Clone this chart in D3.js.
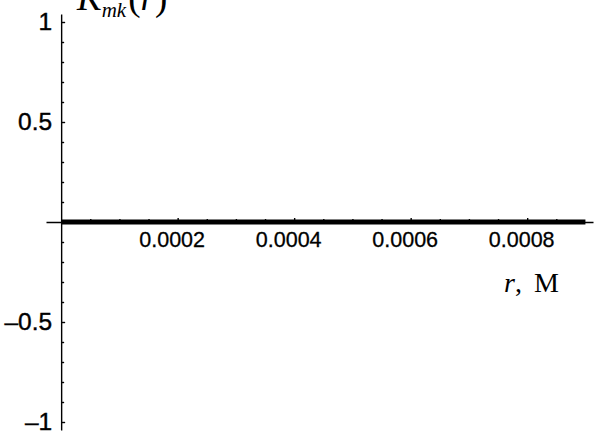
<!DOCTYPE html>
<html>
<head>
<meta charset="utf-8">
<script src="https://cdn.jsdelivr.net/npm/d3@7"></script>
<style>
  body { margin: 0; background: #fff; }
  svg { display: block; }
</style>
</head>
<body>
<div id="chart"></div>
<script>
// data
var rValues = [0, 0.0001, 0.0002, 0.0003, 0.0004, 0.0005, 0.0006, 0.0007, 0.0008, 0.0009];
var kValues = [0, 0, 0, 0, 0, 0, 0, 0, 0, 0];
var xTickValues = [0.0002, 0.0004, 0.0006, 0.0008];
var xTickLabels = ['0.0002', '0.0004', '0.0006', '0.0008'];
var xMinorTicks = [0.00005, 0.0001, 0.00015, 0.00025, 0.0003, 0.00035, 0.00045, 0.0005, 0.00055,
                   0.00065, 0.0007, 0.00075, 0.00085];
var yTickValues = [-1, -0.5, 0.5, 1];
var yTickLabels = ['\u20131', '\u20130.5', '0.5', '1'];
var yMinorTicks = [-0.9, -0.8, -0.7, -0.6, -0.4, -0.3, -0.2, -0.1, 0.1, 0.2, 0.3, 0.4, 0.6, 0.7, 0.8, 0.9];

var width = 597;
var height = 438;

var svg = d3.select('#chart')
  .append('svg')
  .attr('width', width)
  .attr('height', height);

svg.append('rect')
  .attr('width', width)
  .attr('height', height)
  .attr('fill', '#fff');

// plot range is padded a little past the data, like the original
var x = d3.scaleLinear().domain([-0.000026, 0.000913]).range([46, 593]);
var y = d3.scaleLinear().domain([-1.04, 1.04]).range([430, 14]);

var sansFont = '"Liberation Sans", Arial, Helvetica, sans-serif';
var serifFont = '"Liberation Serif", "Times New Roman", Times, serif';

// minor ticks first
svg.append('g')
  .attr('transform', 'translate(0,' + y(0) + ')')
  .call(d3.axisBottom(x).tickValues(xMinorTicks).tickSizeInner(-3).tickSizeOuter(0).tickFormat(''))
  .call(function(g) { g.select('.domain').remove(); });

svg.append('g')
  .attr('transform', 'translate(' + x(0) + ',0)')
  .call(d3.axisLeft(y).tickValues(yMinorTicks).tickSizeInner(-3).tickSizeOuter(0).tickFormat(''))
  .call(function(g) { g.select('.domain').remove(); });

// x axis
var xAxis = svg.append('g')
  .attr('transform', 'translate(0,' + y(0) + ')')
  .call(d3.axisBottom(x)
    .tickValues(xTickValues)
    .tickSizeInner(-4)
    .tickSizeOuter(0)
    .tickPadding(10)
    .tickFormat(function(d, i) { return xTickLabels[i]; }));
xAxis.selectAll('text')
  .attr('dx', -6)
  .style('font-family', sansFont)
  .style('font-size', '21.5px')
  .attr('fill', '#000')
  .attr('stroke', '#000')
  .attr('stroke-width', 0.3);

// y axis
var yAxis = svg.append('g')
  .attr('transform', 'translate(' + x(0) + ',0)')
  .call(d3.axisLeft(y)
    .tickValues(yTickValues)
    .tickSizeInner(-4)
    .tickSizeOuter(0)
    .tickPadding(9)
    .tickFormat(function(d, i) { return yTickLabels[i]; }));
yAxis.selectAll('text')
  .style('font-family', sansFont)
  .style('font-size', '24.5px')
  .attr('fill', '#000')
  .attr('stroke', '#000')
  .attr('stroke-width', 0.4);

svg.selectAll('.domain, .tick line')
  .attr('stroke', '#000')
  .attr('stroke-width', 1.4);

// the curve K_mk(r)
var line = d3.line()
  .x(function(d) { return x(d); })
  .y(function(d, i) { return y(kValues[i]); });

svg.append('path')
  .datum(rValues)
  .attr('d', line)
  .attr('fill', 'none')
  .attr('stroke', '#000')
  .attr('stroke-width', 4.8);

// y label (cut at the top edge, as in the original)
var yLabel = svg.append('text')
  .attr('x', 77)
  .attr('y', 10)
  .style('font-family', serifFont)
  .style('font-size', '37px')
  .attr('fill', '#000');
yLabel.append('tspan').style('font-style', 'italic').text('K');
yLabel.append('tspan').attr('dy', 7).style('font-style', 'italic').style('font-size', '21px').text('mk');
yLabel.append('tspan').attr('dy', -7).attr('dx', 2).text('(');
yLabel.append('tspan').style('font-style', 'italic').text('r');
yLabel.append('tspan').text(')');

// x label
var xLabel = svg.append('text')
  .attr('x', 504)
  .attr('y', 292)
  .style('font-family', serifFont)
  .style('font-size', '28px')
  .attr('fill', '#000');
xLabel.append('tspan').style('font-style', 'italic').text('r');
xLabel.append('tspan').text(',');
xLabel.append('tspan').attr('dx', 12).text('M');
</script>
</body>
</html>
